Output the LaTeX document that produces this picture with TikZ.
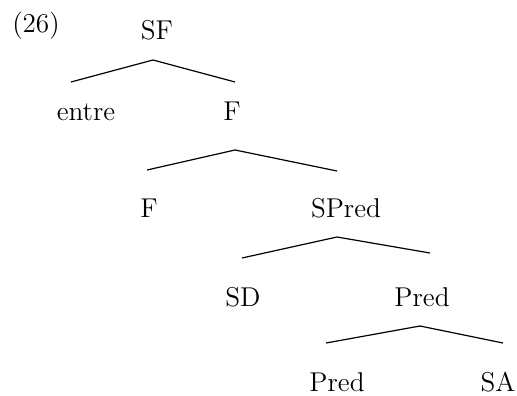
\documentclass[tikz,border=0pt]{standalone}
\begin{document}
\begin{tikzpicture}[x=0.5pt,y=-0.5pt,
    every node/.style={inner sep=0pt,anchor=base,font=\fontsize{13.6}{15}\selectfont}]
    \useasboundingbox (0,0) rectangle (517,395);
    \node (ex) at (36,33) {(26)};
    \node (sf) at (157,40) {SF};
    \node (entre) at (86,120) {entre};
    \node (f) at (232,120) {F};
    \node (fh) at (149,217) {F};
    \node (spred) at (346,217) {SPred};
    \node (sd) at (243,306) {SD};
    \node (pred) at (422,306) {Pred};
    \node (predh) at (337,391) {Pred};
    \node (sa) at (498,391) {SA};

    \draw[line width=0.6pt] ([shift={(-15,-38)}]entre.base) -- ([shift={(-4,20)}]sf.base) -- ([shift={(3,-38)}]f.base);
    \draw[line width=0.6pt] ([shift={(-2,-47)}]fh.base) -- ([shift={(3,30)}]f.base) -- ([shift={(-9,-46)}]spred.base);
    \draw[line width=0.6pt] ([shift={(-1,-48)}]sd.base) -- ([shift={(-9,20)}]spred.base) -- ([shift={(8,-53)}]pred.base);
    \draw[line width=0.6pt] ([shift={(-11,-48)}]predh.base) -- ([shift={(-2,20)}]pred.base) -- ([shift={(5,-48)}]sa.base);
\end{tikzpicture}
\end{document}
